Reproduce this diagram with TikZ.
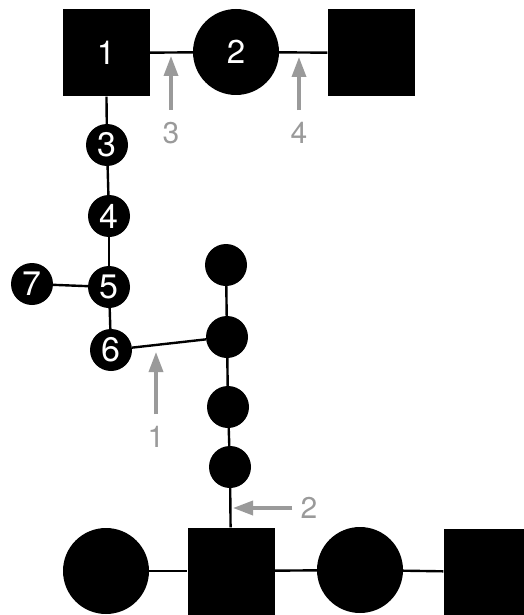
\documentclass[tikz,border=0pt]{standalone}
\usepackage{fontspec}
\setmainfont{TeX Gyre Heros}
\usepackage{xcolor}
\usetikzlibrary{arrows.meta}
\definecolor{ptrgray}{HTML}{9A9A9A}

\begin{document}
\begin{tikzpicture}[
  x=1pt, y=-1pt,
  male/.style={fill=black, rectangle, minimum size=87pt, inner sep=0pt, text=white, font=\fontsize{33}{35}\selectfont},
  female/.style={fill=black, circle, minimum size=86pt, inner sep=0pt, text=white, font=\fontsize{33}{35}\selectfont},
  dot/.style={fill=black, circle, minimum size=42pt, inner sep=0pt, text=white, font=\fontsize{34}{36}\selectfont},
  link/.style={line width=2.4pt},
  ptr/.style={-{Triangle[length=20pt, width=14pt]}, line width=3.5pt, ptrgray},
  lab/.style={text=ptrgray, inner sep=0pt, font=\fontsize{30}{32}\selectfont}
]
\useasboundingbox (0,0) rectangle (523,615);
% top row
\node[male] (top1) at (106,53) {1};
\node[female] (top2) at (236,52) {2};
\node[male] (top3) at (371,53) {};
% left chain
\node[dot] (n3) at (107,145) {3};
\node[dot] (n4) at (109,216) {4};
\node[dot] (n5) at (109,287) {5};
\node[dot] (n7) at (32,284) {7};
\node[dot] (n6) at (111,350) {6};
% right chain
\node[dot] (r1) at (226,265) {};
\node[dot] (r2) at (227,337) {};
\node[dot] (r3) at (228,407) {};
\node[dot] (r4) at (230,467) {};
% bottom row
\node[female] (bot1) at (106,571) {};
\node[male] (bot2) at (231,571) {};
\node[female] (bot3) at (360,570) {};
\node[male] (bot4) at (487,572) {};

\draw[link] (top1) -- (top2);
\draw[link] (top2) -- (top3);
\draw[link] (top1) -- (n3);
\draw[link] (n3) -- (n4);
\draw[link] (n4) -- (n5);
\draw[link] (n5) -- (n7);
\draw[link] (n5) -- (n6);
\draw[link] (n6) -- (r2);
\draw[link] (r1) -- (r2);
\draw[link] (r2) -- (r3);
\draw[link] (r3) -- (r4);
\draw[link] (r4) -- (bot2);
\draw[link] (bot1) -- (bot2);
\draw[link] (bot2) -- (bot3);
\draw[link] (bot3) -- (bot4);

% gray pointers
\node[lab] (l3) at (171,133) {3};
\node[lab] (l4) at (299,133) {4};
\node[lab] (l1) at (156,437) {1};
\node[lab] (l2) at (309,508) {2};
\coordinate (t3) at (171,56);
\coordinate (t4) at (299,57);
\coordinate (t1) at (156,352);
\coordinate (t2) at (233,508);
\draw[ptr, shorten <=12pt] (l3.north) -- (t3);
\draw[ptr, shorten <=12pt] (l4.north) -- (t4);
\draw[ptr, shorten <=12pt] (l1.north) -- (t1);
\draw[ptr, shorten <=8pt] (l2.west) -- (t2);
\end{tikzpicture}
\end{document}
